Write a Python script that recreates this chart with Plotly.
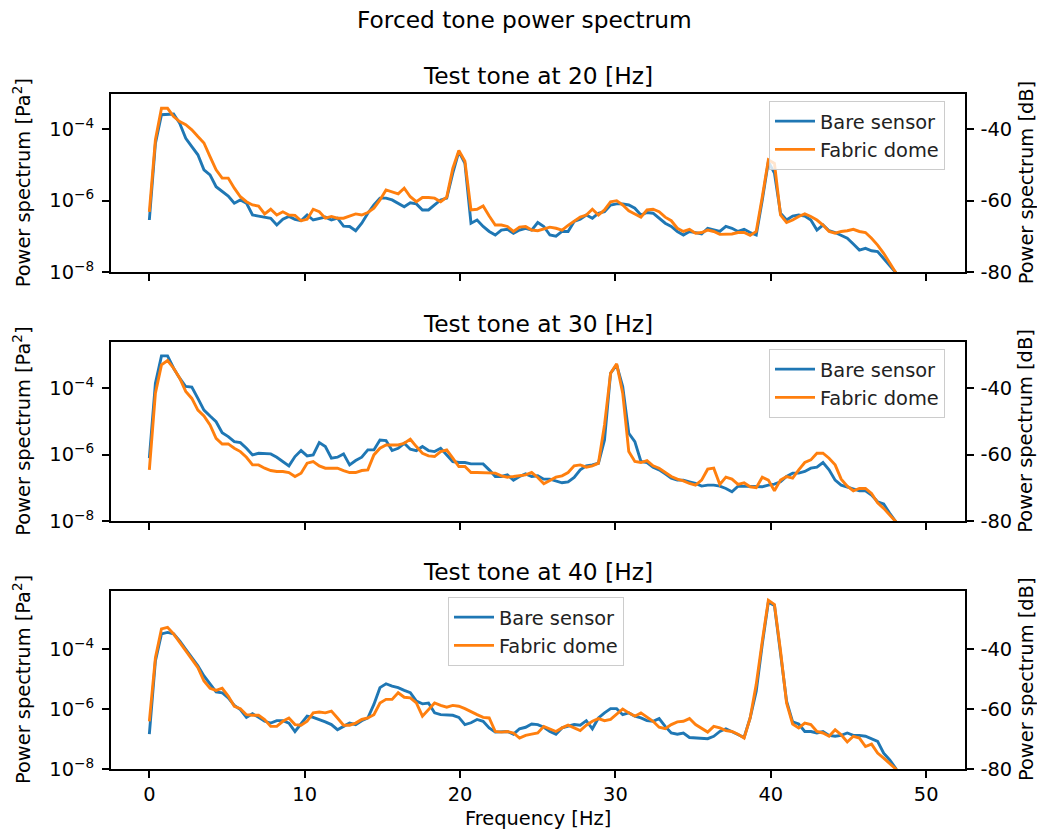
import numpy as np
import plotly.graph_objects as go

# ---------------- data (power spectra, in dB re 1 Pa^2) -------------
freq_hz = np.arange(129) * 0.390625  # Welch frequency bins 0 .. 50 Hz

bare_20_db = [
    -65.4, -44.0, -36.0, -35.8, -35.8, -38.4, -42.6, -44.9, -47.2, -51.4,
    -52.8, -56.1, -57.5, -58.7, -60.7, -59.8, -60.7, -64.0, -64.3, -64.6,
    -64.9, -66.8, -65.2, -64.4, -65.2, -65.6, -64.0, -65.4, -64.9, -64.6,
    -65.4, -64.9, -67.1, -67.2, -68.4, -66.3, -63.5, -61.2, -59.3, -59.3,
    -59.8, -60.7, -61.7, -60.6, -60.9, -62.6, -62.6, -61.2, -59.8, -59.3,
    -52.3, -46.3, -49.6, -66.3, -65.4, -67.2, -68.6, -69.6, -68.2, -68.0,
    -69.1, -68.2, -67.7, -68.2, -66.1, -67.2, -69.6, -69.9, -68.6, -68.6,
    -65.8, -65.2, -64.0, -64.9, -63.5, -63.1, -61.2, -60.9, -60.9, -61.2,
    -62.1, -64.0, -63.3, -63.5, -64.9, -66.3, -67.2, -68.6, -69.6, -68.6,
    -68.9, -69.3, -67.7, -68.2, -68.6, -67.2, -67.7, -68.6, -68.0, -68.9,
    -69.6, -59.8, -49.1, -52.3, -63.5, -65.4, -64.3, -64.0, -64.3, -65.4,
    -68.2, -66.8, -68.4, -68.9, -69.6, -70.5, -72.1, -73.8, -73.3, -74.0,
    -74.2, -76.1, -78.0, -80.1, -83.5, -87.5, -92.0, -97.0, -103.0]

dome_20_db = [
    -63.1, -43.0, -34.2, -34.2, -36.5, -37.9, -38.8, -40.2, -42.1, -43.9,
    -47.7, -51.4, -53.7, -53.7, -56.5, -58.9, -60.3, -61.2, -61.5, -63.7,
    -62.4, -64.0, -63.1, -64.0, -64.1, -65.6, -65.2, -62.4, -63.1, -64.9,
    -64.4, -64.9, -64.9, -64.3, -63.7, -64.0, -63.3, -62.1, -59.8, -57.0,
    -57.5, -58.1, -56.5, -58.9, -60.3, -59.1, -59.1, -59.3, -60.3, -59.0,
    -51.0, -46.0, -49.0, -62.6, -62.4, -61.5, -64.3, -66.8, -66.8, -67.2,
    -68.6, -67.4, -67.2, -68.2, -68.4, -68.0, -67.4, -67.7, -68.2, -66.9,
    -65.8, -64.6, -64.0, -62.4, -64.0, -62.6, -60.3, -60.0, -61.2, -62.8,
    -63.7, -64.6, -62.6, -62.4, -63.1, -64.6, -65.6, -67.7, -68.6, -68.0,
    -69.1, -68.9, -68.2, -68.6, -69.4, -69.4, -69.3, -68.9, -68.9, -69.7,
    -68.6, -58.9, -48.6, -49.6, -64.0, -66.1, -65.4, -64.4, -63.7, -64.4,
    -65.4, -66.8, -68.6, -69.1, -68.6, -68.4, -68.0, -68.6, -68.9, -70.5,
    -72.4, -74.7, -77.5, -80.1, -84.0, -88.5, -93.5, -99.0, -105.0]

bare_30_db = [
    -61.1, -38.5, -30.3, -30.3, -34.0, -37.0, -39.5, -39.7, -43.1, -46.6,
    -48.4, -50.1, -53.4, -54.6, -56.1, -56.4, -58.1, -60.1, -59.6, -59.8,
    -59.8, -60.8, -62.1, -63.4, -60.6, -58.8, -60.4, -60.1, -56.4, -57.6,
    -61.1, -60.8, -59.8, -63.1, -61.8, -60.8, -58.6, -58.6, -55.6, -55.8,
    -58.8, -58.1, -56.6, -58.4, -58.8, -57.6, -58.8, -59.1, -58.1, -60.1,
    -62.1, -62.4, -62.4, -62.8, -62.8, -62.8, -64.6, -66.6, -66.6, -66.1,
    -67.7, -66.6, -65.8, -66.6, -66.4, -67.4, -67.4, -67.9, -68.5, -68.2,
    -66.9, -64.6, -63.4, -63.1, -62.6, -55.6, -35.5, -33.0, -39.5, -53.6,
    -56.1, -62.1, -62.4, -63.8, -64.6, -65.8, -67.1, -67.7, -67.7, -68.2,
    -68.7, -69.5, -69.2, -69.2, -69.5, -70.2, -71.2, -69.5, -69.5, -69.7,
    -69.5, -69.7, -69.2, -68.9, -68.2, -66.6, -65.6, -65.6, -65.1, -64.1,
    -63.8, -62.4, -64.6, -67.7, -69.2, -69.7, -70.2, -70.9, -70.9, -72.2,
    -74.2, -74.9, -77.7, -80.2, -84.0, -88.5, -93.5, -99.0, -105.0]

dome_30_db = [
    -64.6, -41.5, -33.0, -31.7, -34.0, -37.0, -41.0, -43.1, -46.6, -48.4,
    -51.1, -55.1, -56.8, -56.8, -58.1, -59.1, -60.8, -63.1, -63.1, -64.1,
    -64.8, -65.1, -65.1, -65.4, -66.6, -65.6, -62.6, -62.1, -63.4, -64.1,
    -64.1, -64.1, -64.8, -65.4, -65.4, -64.8, -64.6, -60.1, -58.1, -57.1,
    -57.1, -57.1, -56.6, -55.4, -57.6, -59.6, -60.4, -60.6, -59.1, -58.6,
    -61.1, -63.6, -63.6, -65.4, -65.4, -65.4, -65.4, -65.6, -66.4, -66.8,
    -66.6, -66.4, -66.1, -65.4, -66.9, -68.8, -67.8, -66.8, -66.4, -65.4,
    -63.4, -63.1, -63.8, -63.4, -62.6, -51.1, -35.5, -32.7, -41.5, -59.1,
    -62.1, -62.4, -61.8, -63.4, -64.1, -65.4, -66.6, -67.4, -67.9, -68.7,
    -69.2, -67.7, -64.4, -64.1, -69.0, -66.8, -67.4, -69.0, -68.5, -69.7,
    -70.0, -66.8, -67.7, -70.9, -67.7, -66.6, -67.1, -64.6, -62.4, -61.6,
    -59.6, -59.6, -61.1, -63.1, -67.4, -69.5, -70.9, -70.2, -70.2, -71.7,
    -74.5, -76.2, -78.2, -80.2, -84.5, -89.0, -94.0, -99.5, -105.5]

bare_40_db = [
    -68.3, -43.9, -34.9, -34.4, -34.9, -37.2, -40.0, -42.8, -45.5, -48.9,
    -51.5, -54.2, -54.5, -56.2, -58.7, -60.1, -62.7, -61.5, -62.7, -64.0,
    -64.6, -63.8, -63.8, -64.6, -67.4, -64.9, -62.3, -62.7, -63.4, -64.2,
    -65.1, -66.8, -65.7, -64.6, -65.1, -63.8, -62.9, -58.4, -52.8, -51.5,
    -52.3, -52.8, -53.7, -54.5, -57.3, -58.2, -57.9, -61.2, -61.8, -62.0,
    -62.0, -62.7, -65.1, -64.5, -63.4, -64.0, -66.2, -67.6, -67.4, -67.4,
    -68.3, -66.5, -66.0, -64.9, -65.1, -66.0, -67.4, -68.3, -66.2, -65.7,
    -65.1, -65.3, -63.8, -66.5, -62.9, -61.2, -59.8, -59.8, -61.8, -61.2,
    -62.3, -62.9, -63.8, -64.0, -63.1, -65.7, -67.9, -68.3, -67.9, -69.4,
    -69.6, -69.8, -69.8, -69.0, -67.4, -66.5, -67.4, -68.3, -69.4, -62.9,
    -54.0, -38.3, -24.3, -25.4, -40.5, -57.3, -64.2, -64.9, -67.4, -67.4,
    -67.9, -67.4, -68.7, -69.0, -68.7, -67.9, -68.7, -68.7, -69.0, -69.8,
    -70.7, -74.6, -76.9, -79.7, -84.0, -88.5, -93.5, -99.0, -105.0]

dome_40_db = [
    -64.0, -42.8, -33.2, -32.7, -34.9, -37.7, -40.5, -43.3, -46.1, -50.6,
    -53.0, -53.7, -53.0, -55.6, -59.0, -59.8, -61.8, -62.0, -62.0, -63.4,
    -65.7, -65.7, -64.0, -62.9, -65.1, -65.3, -64.0, -61.2, -60.9, -61.2,
    -60.6, -62.9, -65.3, -65.3, -64.6, -63.4, -62.9, -61.8, -57.9, -56.7,
    -56.7, -54.5, -56.0, -56.2, -57.9, -62.3, -60.1, -57.9, -58.7, -59.3,
    -58.7, -59.0, -59.8, -60.9, -61.8, -62.7, -62.9, -67.4, -67.6, -67.4,
    -67.9, -69.6, -68.7, -68.3, -67.9, -65.7, -66.5, -67.4, -66.2, -65.3,
    -66.2, -67.1, -65.3, -64.0, -63.1, -63.8, -63.4, -61.8, -59.9, -61.2,
    -62.3, -61.2, -62.7, -64.0, -66.0, -66.5, -65.1, -64.2, -64.0, -63.1,
    -65.1, -66.5, -67.6, -65.7, -66.2, -67.1, -67.4, -68.3, -69.6, -62.9,
    -51.7, -37.2, -23.7, -25.1, -40.5, -57.9, -64.9, -66.2, -64.6, -65.1,
    -67.4, -67.9, -69.0, -66.8, -68.5, -70.9, -69.0, -69.6, -72.4, -71.6,
    -74.6, -76.3, -78.0, -79.9, -84.0, -88.5, -93.5, -99.0, -105.0]

panel_titles = ["Test tone at 20 [Hz]", "Test tone at 30 [Hz]", "Test tone at 40 [Hz]"]
series_names = ["Bare sensor", "Fabric dome"]
x_ticks = [0, 10, 20, 30, 40, 50]
y_ticks = [1e-8, 1e-6, 1e-4]
y_ticktext = ["10<sup>\u22128</sup>", "10<sup>\u22126</sup>", "10<sup>\u22124</sup>"]
db_ticks = [-80, -60, -40]
db_ticktext = ["-80", "-60", "-40"]

# ---------------- layout / style -------------
W, H = 1037, 834
FONT = "DejaVu Sans"
BLUE, ORANGE = "#1f77b4", "#ff7f0e"
LBL = 19.4
TTL = 23.3
X_LEFT, X_RIGHT = 110.5, 965.0
panels = [
    dict(bare=bare_20_db, dome=dome_20_db, top=94.3, bot=272.3, ytop=-3.03, leg=(769, 101)),
    dict(bare=bare_30_db, dome=dome_30_db, top=342.3, bot=521.0, ytop=-2.62, leg=(769, 349)),
    dict(bare=bare_40_db, dome=dome_40_db, top=590.7, bot=769.3, ytop=-2.05, leg=(448, 597)),
]

def px(x):
    return x / W

def py(y):
    return 1 - y / H

fig = go.Figure()
layout = dict(
    width=W, height=H, template="none",
    margin=dict(l=0, r=0, t=0, b=0, pad=0),
    paper_bgcolor="white", plot_bgcolor="white",
    font=dict(family=FONT, size=LBL, color="black"),
    showlegend=True,
)
annotations = []

for i, p in enumerate(panels):
    n = i + 1
    xa = "x" if n == 1 else f"x{n}"
    ya = "y" if n == 1 else f"y{n}"
    yr = f"y{n + 3}"
    leg = "legend" if n == 1 else f"legend{n}"

    bare_p = 10 ** (np.array(p["bare"]) / 10)
    dome_p = 10 ** (np.array(p["dome"]) / 10)

    fig.add_trace(go.Scatter(x=freq_hz, y=bare_p, mode="lines", name=series_names[0],
                             line=dict(color=BLUE, width=2.9), xaxis=xa, yaxis=ya,
                             legend=leg, legendgroup=f"b{n}"))
    fig.add_trace(go.Scatter(x=freq_hz, y=dome_p, mode="lines", name=series_names[1],
                             line=dict(color=ORANGE, width=2.9), xaxis=xa, yaxis=ya,
                             legend=leg, legendgroup=f"f{n}"))
    # invisible companion on the dB axis so that the right axis is attached
    fig.add_trace(go.Scatter(x=freq_hz, y=p["bare"], mode="lines", line=dict(width=0, color=BLUE),
                             opacity=0, showlegend=False, hoverinfo="skip", xaxis=xa, yaxis=yr))

    dom_y = [py(p["bot"]), py(p["top"])]
    axstyle = dict(showline=True, linecolor="black", linewidth=1.56, ticks="outside",
                   ticklen=6.8, tickwidth=1.56, tickcolor="black", showgrid=False,
                   zeroline=False, automargin=False,
                   tickfont=dict(family=FONT, size=LBL, color="black"))
    layout["xaxis" if n == 1 else f"xaxis{n}"] = dict(
        domain=[px(X_LEFT), px(X_RIGHT)], range=[-2.5, 52.5], anchor=ya,
        mirror=True, tickmode="array", tickvals=x_ticks, showticklabels=(n == 3),
        **axstyle)
    layout["yaxis" if n == 1 else f"yaxis{n}"] = dict(
        domain=dom_y, type="log", range=[-8, p["ytop"]], anchor=xa,
        mirror=True, tickmode="array", tickvals=y_ticks, ticktext=y_ticktext,
        ticklabelstandoff=4, **axstyle)
    layout[f"yaxis{n + 3}"] = dict(
        overlaying=ya, side="right", anchor=xa, range=[-80, 10 * p["ytop"]],
        tickmode="array", tickvals=db_ticks, ticktext=db_ticktext,
        ticklabelstandoff=3, **axstyle)
    layout[leg] = dict(
        x=px(p["leg"][0]), y=py(p["leg"][1]), xanchor="left", yanchor="top",
        bgcolor="rgba(255,255,255,0.8)", bordercolor="#cccccc", borderwidth=1,
        font=dict(family=FONT, size=LBL, color="#222222"),
        tracegroupgap=0, itemwidth=40)

    mid = (p["top"] + p["bot"]) / 2
    annotations.append(dict(text=panel_titles[i], x=px((X_LEFT + X_RIGHT) / 2), y=py(p["top"] - 19),
                            xref="paper", yref="paper", xanchor="center", yanchor="middle",
                            showarrow=False, font=dict(family=FONT, size=TTL, color="black")))
    annotations.append(dict(text="Power spectrum [Pa<sup>2</sup>]", x=px(22), y=py(mid),
                            xref="paper", yref="paper", xanchor="center", yanchor="middle",
                            textangle=-90, showarrow=False,
                            font=dict(family=FONT, size=LBL, color="black")))
    annotations.append(dict(text="Power spectrum [dB]", x=px(1026), y=py(mid),
                            xref="paper", yref="paper", xanchor="center", yanchor="middle",
                            textangle=-90, showarrow=False,
                            font=dict(family=FONT, size=LBL, color="black")))

annotations.append(dict(text="Forced tone power spectrum", x=px(524.5), y=py(20),
                        xref="paper", yref="paper", xanchor="center", yanchor="middle",
                        showarrow=False, font=dict(family=FONT, size=TTL, color="black")))
annotations.append(dict(text="Frequency [Hz]", x=px((X_LEFT + X_RIGHT) / 2), y=py(818),
                        xref="paper", yref="paper", xanchor="center", yanchor="middle",
                        showarrow=False, font=dict(family=FONT, size=LBL, color="black")))
layout["annotations"] = annotations

fig.update_layout(**layout)
fig.write_html("out.html")
